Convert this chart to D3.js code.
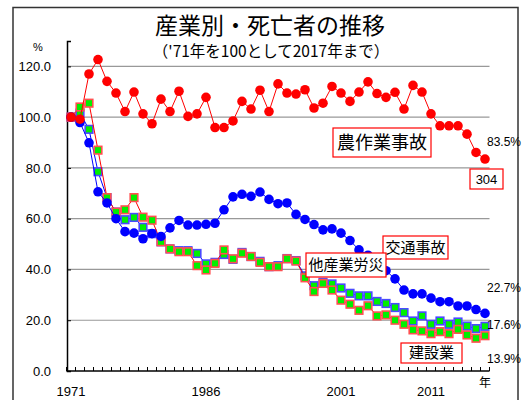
<!DOCTYPE html>
<html>
<head>
<meta charset="utf-8">
<script src="https://cdn.jsdelivr.net/npm/d3@7"></script>
<style>
  body { margin: 0; background: #fff; }
  text { font-family: "Liberation Sans", "Noto Sans CJK JP", sans-serif; }
  .jp { font-family: "Noto Sans CJK JP", sans-serif; }
</style>
</head>
<body>
<div id="chart"></div>
<script>
// Data ('71 = 100)
const years = d3.range(1971, 2018);

const agri = [100, 99.2, 117.0, 122.7, 114.1, 109.5, 102.2, 109.9, 101.3, 97.4,
  107.1, 102.2, 110.2, 100.3, 101.3, 107.8, 95.9, 95.9, 98.5, 106.2,
  103.2, 110.6, 102.2, 113.1, 109.5, 109.1, 110.8, 103.6, 105.5, 112.1,
  109.5, 106.2, 109.9, 113.9, 109.3, 107.8, 109.8, 103.2, 112.5, 109.9,
  101.3, 96.6, 96.6, 96.6, 93.3, 86.1, 83.5];

const traffic = [100, 97.9, 89.9, 70.6, 66.2, 60.0, 54.9, 54.3, 52.1, 54.1,
  53.0, 56.4, 59.3, 57.5, 57.5, 57.8, 58.2, 63.5, 68.6, 69.6,
  68.8, 70.5, 67.6, 65.9, 66.2, 61.7, 59.7, 57.7, 55.6, 56.0,
  54.3, 51.4, 47.7, 45.6, 42.5, 39.5, 36.3, 31.9, 30.4, 30.4,
  28.7, 27.3, 27.3, 25.6, 25.6, 24.2, 22.7];

const otherInd = [100, 101.6, 95.2, 78.5, 68.3, 62.6, 59.6, 60.5, 56.6, 54.1,
  50.9, 48.1, 47.4, 47.4, 46.3, 42.2, 42.8, 45.9, 44.0, 46.7,
  45.1, 43.2, 41.1, 41.5, 44.3, 43.5, 37.5, 33.6, 34.9, 34.3,
  32.7, 30.6, 29.6, 29.6, 27.4, 26.6, 25.0, 23.0, 19.7, 21.7,
  18.4, 19.7, 18.4, 19.3, 17.7, 16.7, 17.6];

const construction = [100, 104.0, 105.5, 87.0, 68.3, 62.6, 63.5, 68.3, 60.6, 59.4,
  50.9, 48.1, 47.0, 47.0, 41.5, 39.8, 42.4, 47.7, 44.2, 46.4,
  45.1, 42.8, 41.1, 41.1, 44.2, 43.3, 36.7, 31.3, 34.5, 31.9,
  27.9, 26.3, 23.9, 25.7, 21.7, 22.1, 20.0, 18.4, 16.2, 15.8,
  14.7, 15.5, 14.7, 16.4, 14.2, 12.9, 13.9];

const yTicks = [0, 20, 40, 60, 80, 100, 120];
const xLabels = [1971, 1986, 2001, 2011];
const endLabels = ["83.5%", "22.7%", "17.6%", "13.9%"];

const width = 525, height = 400;

const svg = d3.select("#chart")
  .append("svg")
  .attr("width", width)
  .attr("height", height);

// outer frame
svg.append("rect")
  .attr("x", 13).attr("y", 7.5)
  .attr("width", 505).attr("height", 410)
  .attr("fill", "none")
  .attr("stroke", "#333")
  .attr("stroke-width", 1.5);

// title
svg.append("text")
  .attr("class", "jp")
  .attr("x", 270).attr("y", 34)
  .attr("text-anchor", "middle")
  .attr("font-size", "23px")
  .text("産業別・死亡者の推移");

svg.append("text")
  .attr("class", "jp")
  .attr("x", 271).attr("y", 57)
  .attr("text-anchor", "middle")
  .attr("font-size", "15.5px")
  .text("（'71年を100として2017年まで）");

svg.append("text")
  .attr("x", 38).attr("y", 51)
  .attr("text-anchor", "middle")
  .attr("font-size", "11px")
  .text("%");

// scales
const x = d3.scaleBand()
  .domain(years)
  .range([66.5, 489.5])
  .padding(0);
const cx = d => x(d) + x.bandwidth() / 2;

const y = d3.scaleLinear()
  .domain([0, 130])
  .range([371, 41]);

// gridlines
svg.append("g")
  .selectAll("line")
  .data(yTicks.filter(d => d > 0))
  .join("line")
  .attr("x1", 67).attr("x2", 489.5)
  .attr("y1", d => y(d)).attr("y2", d => y(d))
  .attr("stroke", "#999")
  .attr("stroke-width", 1.2);

// y axis
const yAxis = svg.append("g")
  .attr("transform", "translate(67,0)")
  .call(d3.axisLeft(y).tickValues(yTicks).tickSize(-4).tickPadding(16).tickFormat(d3.format(".1f")));
yAxis.select(".domain").attr("stroke", "#000").attr("stroke-width", 1.5);
yAxis.selectAll(".tick line").attr("stroke", "#000");
yAxis.selectAll(".tick text").attr("font-size", "13px").attr("fill", "#000");

// x axis (ticks between categories)
const xAxis = svg.append("g")
  .attr("transform", `translate(0,${y(0)})`);
xAxis.append("line")
  .attr("x1", 66.5).attr("x2", 489.5)
  .attr("stroke", "#000").attr("stroke-width", 1.5);
xAxis.selectAll("line.tk")
  .data(years.concat([2018]))
  .join("line")
  .attr("class", "tk")
  .attr("x1", d => d === 2018 ? 489.5 : x(d))
  .attr("x2", d => d === 2018 ? 489.5 : x(d))
  .attr("y1", 0).attr("y2", -4)
  .attr("stroke", "#000");
xAxis.selectAll("text")
  .data(xLabels)
  .join("text")
  .attr("x", d => cx(d))
  .attr("y", 25)
  .attr("text-anchor", "middle")
  .attr("font-size", "13px")
  .text(d => d);
svg.append("text")
  .attr("class", "jp")
  .attr("x", cx(2017)).attr("y", 387)
  .attr("text-anchor", "middle")
  .attr("font-size", "12px")
  .text("年");

const line = d3.line()
  .x((d, i) => cx(years[i]))
  .y(d => y(d));

// square series
function squares(data, lineColor, edge) {
  svg.append("path")
    .datum(data)
    .attr("d", line)
    .attr("fill", "none")
    .attr("stroke", lineColor)
    .attr("stroke-width", 1);
  svg.append("g")
    .selectAll("rect")
    .data(data)
    .join("rect")
    .attr("x", (d, i) => cx(years[i]) - 3.8)
    .attr("y", d => y(d) - 3.8)
    .attr("width", 7.6).attr("height", 7.6)
    .attr("fill", "#00f000")
    .attr("stroke", edge)
    .attr("stroke-width", 1.6);
}

function circles(data, color) {
  svg.append("path")
    .datum(data)
    .attr("d", line)
    .attr("fill", "none")
    .attr("stroke", color)
    .attr("stroke-width", 1);
  svg.append("g")
    .selectAll("circle")
    .data(data)
    .join("circle")
    .attr("cx", (d, i) => cx(years[i]))
    .attr("cy", d => y(d))
    .attr("r", 4.8)
    .attr("fill", color);
}

squares(otherInd, "#0000ff", "#4a4aff");
squares(construction, "#ff0000", "#ff5050");
circles(traffic, "#0000ff");
circles(agri, "#ff0000");

// series label boxes
const boxes = [
  {t: "農作業事故", x: 333, y: 128, w: 98, h: 29, fs: 18},
  {t: "交通事故", x: 383, y: 236, w: 65, h: 23, fs: 15},
  {t: "他産業労災", x: 306, y: 253, w: 80, h: 24, fs: 15},
  {t: "建設業", x: 401, y: 343, w: 61, h: 20, fs: 15}
];
const bx = svg.append("g").selectAll("g")
  .data(boxes)
  .join("g");
bx.append("rect")
  .attr("x", d => d.x).attr("y", d => d.y)
  .attr("width", d => d.w).attr("height", d => d.h)
  .attr("fill", "#fff")
  .attr("stroke", "#f00")
  .attr("stroke-width", 1.2);
bx.append("text")
  .attr("class", "jp")
  .attr("x", d => d.x + d.w / 2)
  .attr("y", d => d.y + d.h / 2)
  .attr("dy", "0.36em")
  .attr("text-anchor", "middle")
  .attr("font-size", d => d.fs + "px")
  .text(d => d.t);

// 304 box
svg.append("rect")
  .attr("x", 470).attr("y", 169)
  .attr("width", 33).attr("height", 20)
  .attr("fill", "#fff")
  .attr("stroke", "#f00")
  .attr("stroke-width", 1.2);
svg.append("text")
  .attr("x", 486.5).attr("y", 184)
  .attr("text-anchor", "middle")
  .attr("font-size", "13px")
  .text("304");

// end values
const endY = [142, 288, 325, 359];
svg.append("g").selectAll("text")
  .data(endLabels)
  .join("text")
  .attr("x", 487)
  .attr("y", (d, i) => endY[i])
  .attr("dy", "0.36em")
  .attr("font-size", "12px")
  .text(d => d);
</script>
</body>
</html>
